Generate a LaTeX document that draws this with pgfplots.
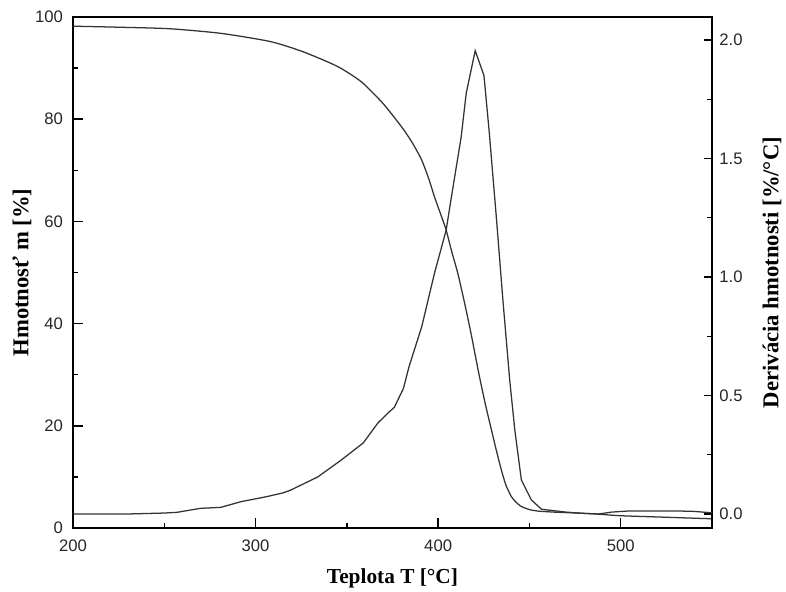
\documentclass[border=0pt]{standalone}
\usepackage{fontspec}
\setmainfont{Liberation Serif}
\newfontfamily\sansf{Liberation Sans}
\usepackage{pgfplots}
\pgfplotsset{compat=1.18}
\pgfplotstableread{
T m
200 98.2
225 98.0
253 97.7
281 96.8
308 95.2
326 93.2
345 90.3
358 87.3
369 83.4
375 80.8
381 78.0
386 75.3
391 72.0
395 68.2
398 64.8
401.6 61.2
404.4 58.3
407.5 54.0
410.8 49.8
414.5 44.0
418 38.1
420.5 33.5
422.7 29.5
426 24.0
429 19.5
432 15.0
434.6 11.4
437 8.5
440 6.2
442.8 5.0
445.6 4.2
450 3.6
455 3.3
464 3.1
478 2.9
488 2.7
500 2.4
525 2.1
550 1.8
}\mass
\pgfplotstableread{
T D
200 0.0
230 0.0
250 0.004
257 0.007
263 0.015
270 0.024
281 0.028
292 0.052
306 0.073
315 0.089
319 0.10
334 0.156
347 0.228
359 0.30
367 0.384
372.5 0.426
376 0.45
381 0.53
384 0.62
391 0.79
398 1.016
404.4 1.198
407 1.325
412.6 1.59
415.4 1.776
420.3 1.955
425.1 1.85
428 1.61
432 1.24
435.5 0.9
439.2 0.565
442 0.354
445.6 0.143
451 0.06
456.6 0.02
470 0.008
478.6 0.003
488 0.0
495 0.008
505 0.013
530 0.013
540 0.011
550 0.005
}\dtg
\begin{document}
\begin{tikzpicture}
\path[use as bounding box] (-54.75pt,-48pt) rectangle (534.75pt,396pt);
\pgfplotsset{every axis/.append style={
  scale only axis, width=479.25pt, height=383.25pt,
  xmin=200, xmax=550, tick align=inside,
  axis line style={line width=1.2pt},
  major tick length=7.5pt, minor tick length=3.75pt,
  every tick/.style={line width=1.1pt, black},
  ticklabel style={font=\sansf\fontsize{12.5}{14}\selectfont, color=black!85},
  /pgf/number format/assume math mode=true}}
\begin{axis}[at={(0,0)}, anchor=south west,
  ymin=0, ymax=100,
  xtick={200,300,400,500}, minor xtick={250,350,450},
  ytick={0,20,40,60,80,100}, minor ytick={10,30,50,70,90},
  xtick pos=left, ytick pos=left,
  yticklabel style={xshift=-4pt}, xticklabel style={yshift=-5pt}]
\addplot[line width=0.95pt, color=black!80, smooth, tension=0.4] table[x=T, y=m] {\mass};
\end{axis}
\begin{axis}[at={(0,0)}, anchor=south west,
  ymin=-0.0591, ymax=2.097,
  axis x line=none, axis y line*=right,
  ytick={0,0.5,1,1.5,2}, minor ytick={0.25,0.75,1.25,1.75},
  major tick length=6pt,
  yticklabel style={xshift=2pt, /pgf/number format/fixed, /pgf/number format/fixed zerofill, /pgf/number format/precision=1}]
\addplot[line width=0.95pt, color=black!80] table[x=T, y=D] {\dtg};
\end{axis}
\node[rotate=90, font=\bfseries\fontsize{17}{20}\selectfont] at (-38.25pt,191.6pt) {Hmotnosť m [\%]};
\node[rotate=90, font=\bfseries\fontsize{17}{20}\selectfont] at (524.25pt,191.6pt) {Derivácia hmotnosti [\%/°C]};
\node[font=\bfseries\fontsize{16}{19}\selectfont] at (239.6pt,-37.5pt) {Teplota T [°C]};
\end{tikzpicture}
\end{document}
